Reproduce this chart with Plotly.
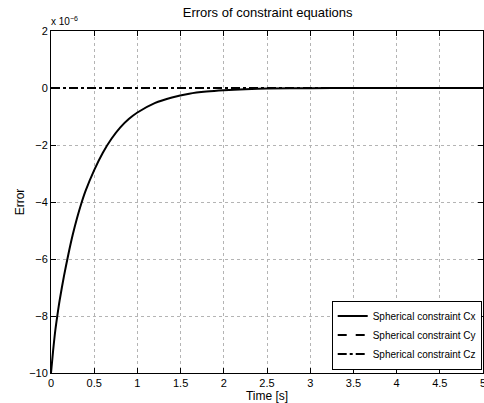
import plotly.graph_objects as go

# Time samples [s]
time_s = [0, 0.025, 0.05, 0.075, 0.1, 0.15, 0.2, 0.25, 0.3, 0.35, 0.4, 0.5, 0.6,
          0.7, 0.8, 0.9, 1.0, 1.2, 1.4, 1.6, 1.8, 2.0, 2.25, 2.5, 3.0, 3.5, 4.0, 5.0]
# Errors in units of 1e-6
cx = [-10, -9.2, -8.5, -7.95, -7.45, -6.6, -5.85, -5.17, -4.58, -4.06, -3.61, -2.88, -2.27,
      -1.78, -1.39, -1.09, -0.86, -0.53, -0.33, -0.2, -0.125, -0.078, -0.04, -0.02, -0.005, 0, 0, 0]
cy = [0] * len(time_s)
cz = [0] * len(time_s)

x_ticks = [0, 0.5, 1, 1.5, 2, 2.5, 3, 3.5, 4, 4.5, 5]
x_tick_text = ["0", "0.5", "1", "1.5", "2", "2.5", "3", "3.5", "4", "4.5", "5"]
y_ticks = [2, 0, -2, -4, -6, -8, -10]
y_tick_text = ["2", "0", "\u22122", "\u22124", "\u22126", "\u22128", "\u221210"]

font = "Liberation Sans, Arial, sans-serif"

fig = go.Figure()
fig.add_trace(go.Scatter(x=time_s, y=cx, mode="lines", name="Spherical constraint Cx",
                         line=dict(color="black", width=2, shape="spline", smoothing=0.8)))
fig.add_trace(go.Scatter(x=time_s, y=cy, mode="lines", name="Spherical constraint Cy",
                         line=dict(color="black", width=2, dash="dash")))
fig.add_trace(go.Scatter(x=time_s, y=cz, mode="lines", name="Spherical constraint Cz",
                         line=dict(color="black", width=2, dash="dashdot")))

axis_common = dict(showline=True, linecolor="black", linewidth=1, mirror="ticks",
                   ticks="inside", ticklen=5, tickcolor="black", automargin=False,
                   ticklabeloverflow="allow",
                   showgrid=True, gridcolor="#b4b4b4", griddash="dot", gridwidth=1,
                   zeroline=False, tickfont=dict(family=font, size=11, color="black"))

fig.update_layout(
    width=484, height=403,
    margin=dict(l=51, r=1, t=31, b=30, autoexpand=False),
    paper_bgcolor="white", plot_bgcolor="white",
    title=dict(text="Errors of constraint equations", x=0.553, xanchor="center",
               xref="container", yref="container", automargin=False,
               y=0.970, yanchor="middle",
               font=dict(family=font, size=13, color="black")),
    xaxis=dict(range=[0, 5], tickvals=x_ticks, ticktext=x_tick_text,
               title=dict(text="Time [s]", standoff=4,
                          font=dict(family=font, size=12, color="black")),
               **axis_common),
    yaxis=dict(range=[-10, 2], tickvals=y_ticks, ticktext=y_tick_text,
               title=dict(text="Error", standoff=1,
                          font=dict(family=font, size=12, color="black")),
               **axis_common),
    legend=dict(x=0.997, y=0.01, xanchor="right", yanchor="bottom",
                bgcolor="white", bordercolor="black", borderwidth=1,
                font=dict(family=font, size=10, color="black"),
                tracegroupgap=0, itemwidth=30),
    showlegend=True,
)

fig.add_annotation(text="x 10<sup>\u22126</sup>", xref="paper", yref="paper",
                   x=0.0, y=1.0, xanchor="left", yanchor="bottom", showarrow=False,
                   xshift=-2, yshift=2,
                   font=dict(family=font, size=10, color="black"))

# Remove the default page margin so the figure fills the window exactly.
fig.write_html("out.html", config={"displayModeBar": False},
               post_script="document.body.style.margin='0';document.body.style.overflow='hidden';")
